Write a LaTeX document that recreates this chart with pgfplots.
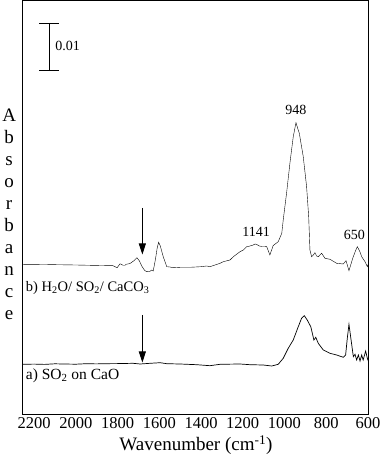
\documentclass[border=0pt]{standalone}
\usepackage{fontspec}
\setmainfont{Liberation Serif}
\usepackage{pgfplots}
\pgfplotsset{compat=1.18}
\usetikzlibrary{arrows.meta}

\begin{document}
\begin{tikzpicture}[font=\rmfamily]
\begin{axis}[
    scale only axis,
    width=346pt, height=413pt,
    x dir=reverse,
    xmin=595, xmax=2253,
    ymin=0, ymax=413,
    xtick={600,800,...,2200},
    ytick=\empty,
    xtick style={draw=none},
    /pgf/number format/assume math mode=true,
    /pgf/number format/1000 sep={},
    xticklabel style={font=\rmfamily\fontsize{16.5}{18}\selectfont},
    xlabel={Wavenumber (cm\textsuperscript{-1})},
    xlabel style={font=\rmfamily\fontsize{19}{22}\selectfont},
    axis line style={line width=1pt},
    cycle list={{black, line width=0.7pt, no markers}},
    clip=false,
]
% b) H2O / SO2 / CaCO3
\addplot coordinates {
(2252,149.7) (2150,149.5) (2095,149.3) (2000,149.0) (1932,148.7) (1822,148.3)
(1802,146.3) (1788,150.2) (1780,149.5) (1774,148.7) (1764,148.7) (1759,149.7)
(1740,150.5) (1720,153.5) (1707,156.3) (1695,153) (1684,148) (1670,143.5)
(1660,142.3) (1645,142.6) (1636,144) (1629,143) (1618,155) (1610,166)
(1603,171.8) (1595,168) (1581,157.3) (1564,147.3) (1549,147) (1533,146.3)
(1501,146.7) (1453,146.7) (1400,147.3) (1373,148) (1357,147.3) (1309,150.7)
(1293,152.3) (1261,154) (1245,157.3) (1213,162.3) (1197,164) (1181,167.3)
(1165,168) (1150,169) (1141,170) (1133,169.5) (1120,168) (1109,167.5)
(1095,167.5) (1085,167.3) (1070,159) (1054,168.5) (1030,172.3) (1013,180.7)
(1006,194) (990,220.7) (974,250.7) (958,277.3) (945,291.3) (929,280.7)
(910,257.3) (894,227.3) (884,197.3) (878,164) (870,157.3) (862,159)
(854,161.3) (846,158) (838,157.3) (830,159) (822,160.7) (806,155.7)
(782,154.7) (750,150.7) (718,150) (705,153.3) (691,143.3) (673,155.7)
(660,163) (651,167.3) (640,163) (630,157.3) (614,152.3) (603,147.3) (597,150.7)
};
% a) SO2 on CaO
\addplot coordinates {
(2252,49.7) (2200,49.9) (2150,49.6) (2100,50.2) (2061,50) (2000,49.8)
(1950,50.3) (1900,50.1) (1869,50.3) (1800,50.4) (1726,50.7) (1692,50)
(1644,50.7) (1596,51.3) (1564,50.3) (1501,50) (1421,49.3) (1357,48.3)
(1309,49.7) (1213,50) (1165,49.3) (1102,49) (1061,48) (1030,49.7)
(1006,55.7) (982,65.7) (958,74) (934,87.3) (918,95.7) (905,98.3)
(891,94) (874,87.3) (859,74) (850,76.7) (838,70.7) (814,64)
(782,60.7) (750,59) (718,56.7) (707,59) (699,75.7) (691,89.7)
(683,77.3) (670,57.3) (662,59.7) (654,54) (646,59) (638,53)
(630,59) (623,54) (611,63) (603,55.7) (597,52.3)
};

% scale bar
\draw[line width=0.9pt] (axis cs:2128,391) -- (axis cs:2128,344);
\draw[line width=0.9pt] (axis cs:2176,391) -- (axis cs:2080,391);
\draw[line width=0.9pt] (axis cs:2176,344) -- (axis cs:2080,344);
\node[anchor=west, font=\rmfamily\fontsize{14}{16}\selectfont, inner sep=0pt] at (axis cs:2099,368) {0.01};

% arrows
\draw[line width=0.9pt, -{Triangle[length=11pt,width=7pt]}] (axis cs:1681,206) -- (axis cs:1681,159.5);
\draw[line width=0.9pt, -{Triangle[length=11pt,width=7pt]}] (axis cs:1681,99) -- (axis cs:1681,51.5);

% peak labels
\node[font=\rmfamily\fontsize{14}{16}\selectfont] at (axis cs:945,304) {948};
\node[font=\rmfamily\fontsize{14}{16}\selectfont] at (axis cs:1136,182) {1141};
\node[font=\rmfamily\fontsize{14}{16}\selectfont] at (axis cs:665,179) {650};

% spectrum labels
\node[anchor=west, inner sep=0pt, font=\rmfamily\fontsize{14.5}{16}\selectfont] at (axis cs:2240,126)
  {b) H\textsubscript{2}O/ SO\textsubscript{2}/ CaCO\textsubscript{3}};
\node[anchor=west, inner sep=0pt, font=\rmfamily\fontsize{15.5}{17}\selectfont] at (axis cs:2240,38)
  {a) SO\textsubscript{2} on CaO};

% stacked y label
\node[align=center, font=\rmfamily\fontsize{19}{22}\selectfont] at (rel axis cs:-0.040,0.484)
  {A\\b\\s\\o\\r\\b\\a\\n\\c\\e};
\end{axis}
\pgfresetboundingbox
\path[use as bounding box] ([shift={(-23pt,-48pt)}]current axis.south west)
  rectangle ([shift={(11pt,1pt)}]current axis.north east);
\end{tikzpicture}
\end{document}
